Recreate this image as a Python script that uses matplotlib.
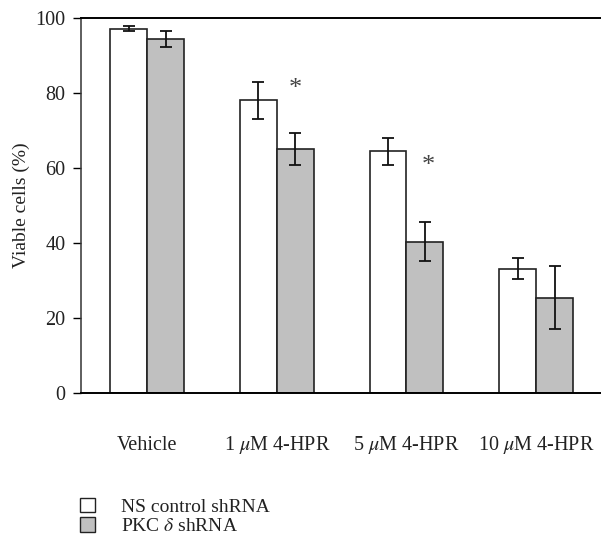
import numpy as np
import matplotlib
matplotlib.use("Agg")
from matplotlib import pyplot as plt
from matplotlib.patches import Patch

plt.rcParams['font.family'] = ['Liberation Serif', 'DejaVu Serif']
plt.rcParams['mathtext.fontset'] = 'stix'

groups = ['Vehicle', r'1 $\mu$M 4-HPR', r'5 $\mu$M 4-HPR', r'10 $\mu$M 4-HPR']
ns_vals = [97.2, 78.1, 64.5, 33.2]
ns_err = [0.7, 4.9, 3.6, 2.8]
pkc_vals = [94.5, 65.1, 40.4, 25.4]
pkc_err = [2.1, 4.2, 5.1, 8.4]
series_names = ['NS control shRNA', r'PKC $\delta$ shRNA']
star_groups = [1, 2]
star_y = [81.0, 60.6]
yticks = [0, 20, 40, 60, 80, 100]

fig = plt.figure(figsize=(6.01, 5.38), dpi=100)
ax = fig.add_axes([0.1348, 0.2695, 0.8652, 0.697])

x = np.arange(len(groups))
w = 0.285
ekw = dict(elinewidth=1.3, capthick=1.3, ecolor='#111111')
ax.bar(x - w/2, ns_vals, w, yerr=ns_err, capsize=4, color='white',
       edgecolor='#222222', linewidth=1.2, error_kw=ekw)
ax.bar(x + w/2, pkc_vals, w, yerr=pkc_err, capsize=4, color='#c0c0c0',
       edgecolor='#222222', linewidth=1.2, error_kw=ekw)

for g, sy in zip(star_groups, star_y):
    ax.text(g + w/2 + (0.025 if g == 2 else 0), sy, '*', ha='center', va='center',
            fontsize=19, color='#444444')

ax.set_xlim(-0.51, 3.5)
ax.set_ylim(0, 100)
ax.set_yticks(yticks)
ax.set_xticks(x)
ax.set_xticklabels(groups, fontsize=14.5, color='#222222')
for lab in ax.get_xticklabels():
    lab.set_verticalalignment('baseline')
ax.tick_params(axis='x', length=0, pad=41)
ax.tick_params(axis='y', length=6, width=1, direction='out', labelsize=14.5,
               labelcolor='#222222', pad=5)
ax.set_ylabel('Viable cells (%)', fontsize=14, labelpad=4, color='#222222')
ax.spines['right'].set_visible(False)
ax.spines['top'].set_linewidth(1.4)
ax.spines['bottom'].set_linewidth(1.4)
ax.spines['left'].set_linewidth(1.1)
ax.spines['left'].set_color('#333333')

handles = [Patch(facecolor='white', edgecolor='#222222', linewidth=1.0),
           Patch(facecolor='#c0c0c0', edgecolor='#222222', linewidth=1.0)]
leg = fig.legend(handles, series_names, loc='upper left',
                 bbox_to_anchor=(0.133, 0.075), frameon=False, fontsize=14,
                 handlelength=0.75, handleheight=0.75, handletextpad=1.35,
                 labelspacing=0.1, borderaxespad=0, borderpad=0)
for t in leg.get_texts():
    t.set_color('#222222')

fig.savefig('out.png', dpi=100)
